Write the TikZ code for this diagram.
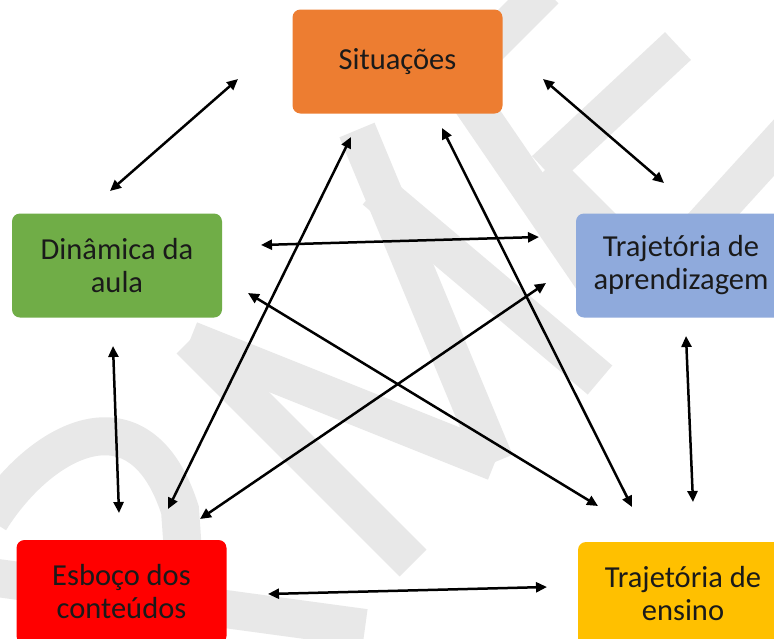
\documentclass[tikz,border=0pt]{standalone}
\usepackage{fontspec}
\setmainfont{Carlito}
\usetikzlibrary{arrows.meta}
\definecolor{cOrange}{HTML}{ED7D31}
\definecolor{cGreen}{HTML}{70AD47}
\definecolor{cBlue}{HTML}{8FAADC}
\definecolor{cRed}{HTML}{FF0000}
\definecolor{cYellow}{HTML}{FFC000}
\definecolor{wmgray}{RGB}{232,232,232}
\definecolor{txt}{HTML}{1A1A1A}
\begin{document}
\begin{tikzpicture}[x=1pt,y=-1pt,
  box/.style={rounded corners=8pt, minimum width=210pt, minimum height=104pt,
    align=center, font=\fontsize{30.5}{33}\selectfont, text=txt, inner sep=0pt},
  link/.style={line width=2.5pt, draw=black,
    {Triangle[length=11pt,width=10pt]}-{Triangle[length=11pt,width=10pt]}},
  wm/.style={line width=38pt, draw=wmgray, line cap=butt}]
\useasboundingbox (0,0) rectangle (774,638);
\clip (0,0) rectangle (774,638);
\fill[white] (0,0) rectangle (774,638);
% watermark
\draw[wm] (-10,520) .. controls (40,440) and (140,385) .. (180,510) -- (190,650);
\draw[wm] (-10,577) -- (365,628);
\draw[wm] (190,340) -- (413,563);
\draw[wm] (190,340) -- (495,462);
\draw[wm] (495,462) -- (357,130);
\draw[wm] (375,190) -- (600,380);
\draw[wm] (678,46) -- (545,170);
\draw[wm] (545,170) -- (660,285);
\draw[wm] (790,130) -- (690,240);
\draw[wm] (545,-10) -- (470,65);
\draw[wm] (470,100) -- (600,290);
% boxes
\node[box, fill=cOrange] (sit) at (397.5,61.5) {Situações};
\node[box, fill=cGreen] (din) at (117,265.5) {Dinâmica da\\aula};
\node[box, fill=cBlue] (apr) at (681,265.5) {Trajetória de\\aprendizagem};
\node[box, fill=cRed] (esb) at (121.5,592) {Esboço dos\\conteúdos};
\node[box, fill=cYellow] (ens) at (683,594) {Trajetória de\\ensino};
% connector ends
\coordinate (sitL) at (238,79);   \coordinate (dinT) at (110,191);
\coordinate (sitR) at (543,79);   \coordinate (aprT) at (664,183);
\coordinate (dinR) at (261,245);  \coordinate (aprL) at (539,237);
\coordinate (dinB) at (248,293);  \coordinate (ensA) at (598,506);
\coordinate (sitB1) at (351,137); \coordinate (esbA) at (168,509);
\coordinate (sitB2) at (442,128); \coordinate (ensB) at (632,507);
\coordinate (aprB) at (546,283);  \coordinate (esbB) at (200,519);
\coordinate (dinD) at (113,346);  \coordinate (esbT) at (119,513);
\coordinate (aprD) at (686,336);  \coordinate (ensT) at (693,502);
\coordinate (esbR) at (268,594);  \coordinate (ensL) at (547,587);
% connectors
\draw[link] (sitL) -- (dinT);
\draw[link] (sitR) -- (aprT);
\draw[link] (dinR) -- (aprL);
\draw[link] (dinB) -- (ensA);
\draw[link] (sitB1) -- (esbA);
\draw[link] (sitB2) -- (ensB);
\draw[link] (aprB) -- (esbB);
\draw[link] (dinD) -- (esbT);
\draw[link] (aprD) -- (ensT);
\draw[link] (esbR) -- (ensL);
\end{tikzpicture}
\end{document}
